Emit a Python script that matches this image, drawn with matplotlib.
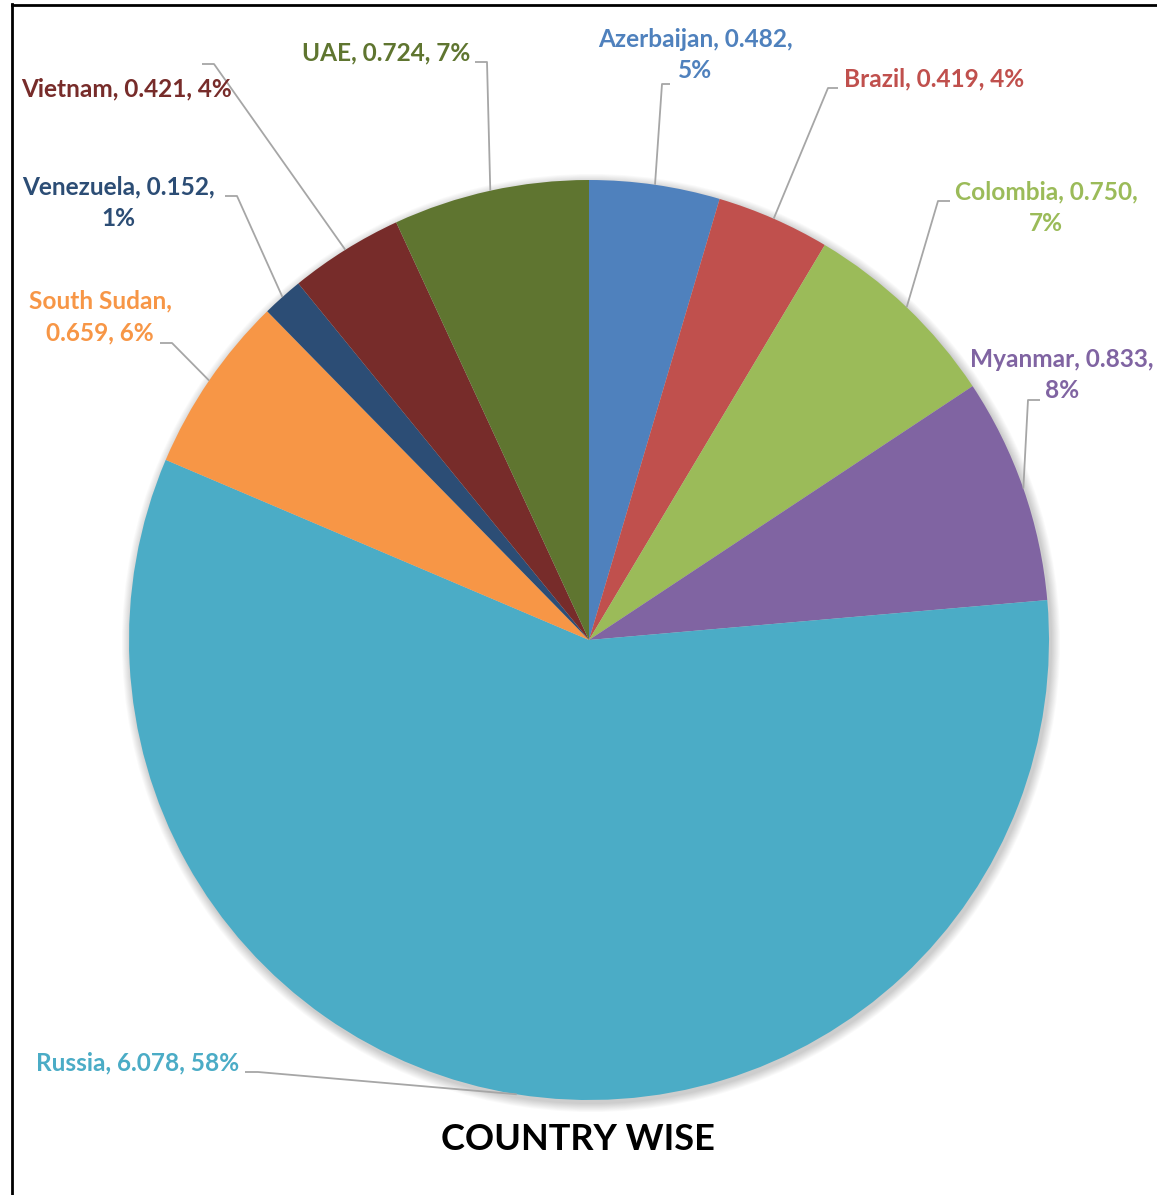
import matplotlib
matplotlib.use("Agg")
import numpy as np
from matplotlib import pyplot as plt
from matplotlib.patches import Circle
from matplotlib.lines import Line2D

# data
countries = ["Azerbaijan", "Brazil", "Colombia", "Myanmar", "Russia",
             "South Sudan", "Venezuela", "Vietnam", "UAE"]
values = [0.482, 0.419, 0.750, 0.833, 6.078, 0.659, 0.152, 0.421, 0.724]
colors = ["#4F81BD", "#C0504D", "#9BBB59", "#8064A2", "#4BACC6",
          "#F79646", "#2C4D75", "#772C2A", "#5F7530"]
# where the label text wraps: 0 = one line, 1 = before percent, 2 = after name
wraps = [1, 0, 1, 1, 0, 2, 1, 0, 0]
title = "COUNTRY WISE"

# layout in pixels (y down, like the picture)
W, H = 1157, 1195
cx, cy, R = 589, 640, 460
label_xy = [(695, 55), (934, 79), (1046, 208), (1062, 375), (138, 1063),
            (100, 317), (118, 203), (127, 89), (386, 53)]
tick_xy = [((670, 84), (662, 84)), ((838, 88), (828, 88)),
           ((950, 201), (938, 201)), ((1040, 400), (1028, 400)),
           ((245, 1072), (258, 1072)), ((160, 343), (172, 343)),
           ((225, 196), (237, 196)), ((202, 64), (214, 64)),
           ((475, 62), (487, 62))]

plt.rcParams['font.family'] = ['Lato', 'DejaVu Sans']

fig = plt.figure(figsize=(W / 100, H / 100), dpi=100)
ax = fig.add_axes([0, 0, 1, 1])

# soft shadow under the pie
for i in range(10):
    ax.add_patch(Circle((cx + 2, H - cy - 3), R + 1 + i * 0.9, color="#000000",
                        alpha=0.018, lw=0, zorder=0))

wedges, _ = ax.pie(values, colors=colors, startangle=90, counterclock=False,
                   center=(cx, H - cy), radius=R, frame=True,
                   wedgeprops=dict(linewidth=0))
ax.set_xlim(0, W)
ax.set_ylim(0, H)
ax.axis("off")

total = sum(values)
for i, w in enumerate(wedges):
    name, v = countries[i], values[i]
    pct = round(v / total * 100)
    if wraps[i] == 1:
        txt = f"{name}, {v:.3f},\n{pct}%"
    elif wraps[i] == 2:
        txt = f"{name},\n{v:.3f}, {pct}%"
    else:
        txt = f"{name}, {v:.3f}, {pct}%"
    lx, ly = label_xy[i]
    ax.text(lx, H - ly, txt, ha="center", va="center", color=colors[i],
            fontsize=17.6, fontweight="bold", linespacing=1.45, zorder=5)
    # leader line to the wedge edge
    mid = np.deg2rad((w.theta1 + w.theta2) / 2)
    ex = w.center[0] + w.r * np.cos(mid)
    ey = w.center[1] + w.r * np.sin(mid)
    (ax1, ay1), (ax2, ay2) = tick_xy[i]
    ax.plot([ax1, ax2, ex], [H - ay1, H - ay2, ey], color="#A6A6A6",
            lw=1.3, zorder=4, solid_capstyle="butt")

ax.text(578, H - 1139, title, ha="center", va="center", color="black",
        fontsize=26, fontweight="bold")

# chart frame (only left and top edges are inside the picture)
fig.add_artist(Line2D([12 / W, 12 / W], [0, 1 - 4 / H], transform=fig.transFigure,
                      color="black", lw=2))
fig.add_artist(Line2D([12 / W, 1], [1 - 5 / H, 1 - 5 / H], transform=fig.transFigure,
                      color="black", lw=2))

fig.savefig("out.png", dpi=100, facecolor="white")
